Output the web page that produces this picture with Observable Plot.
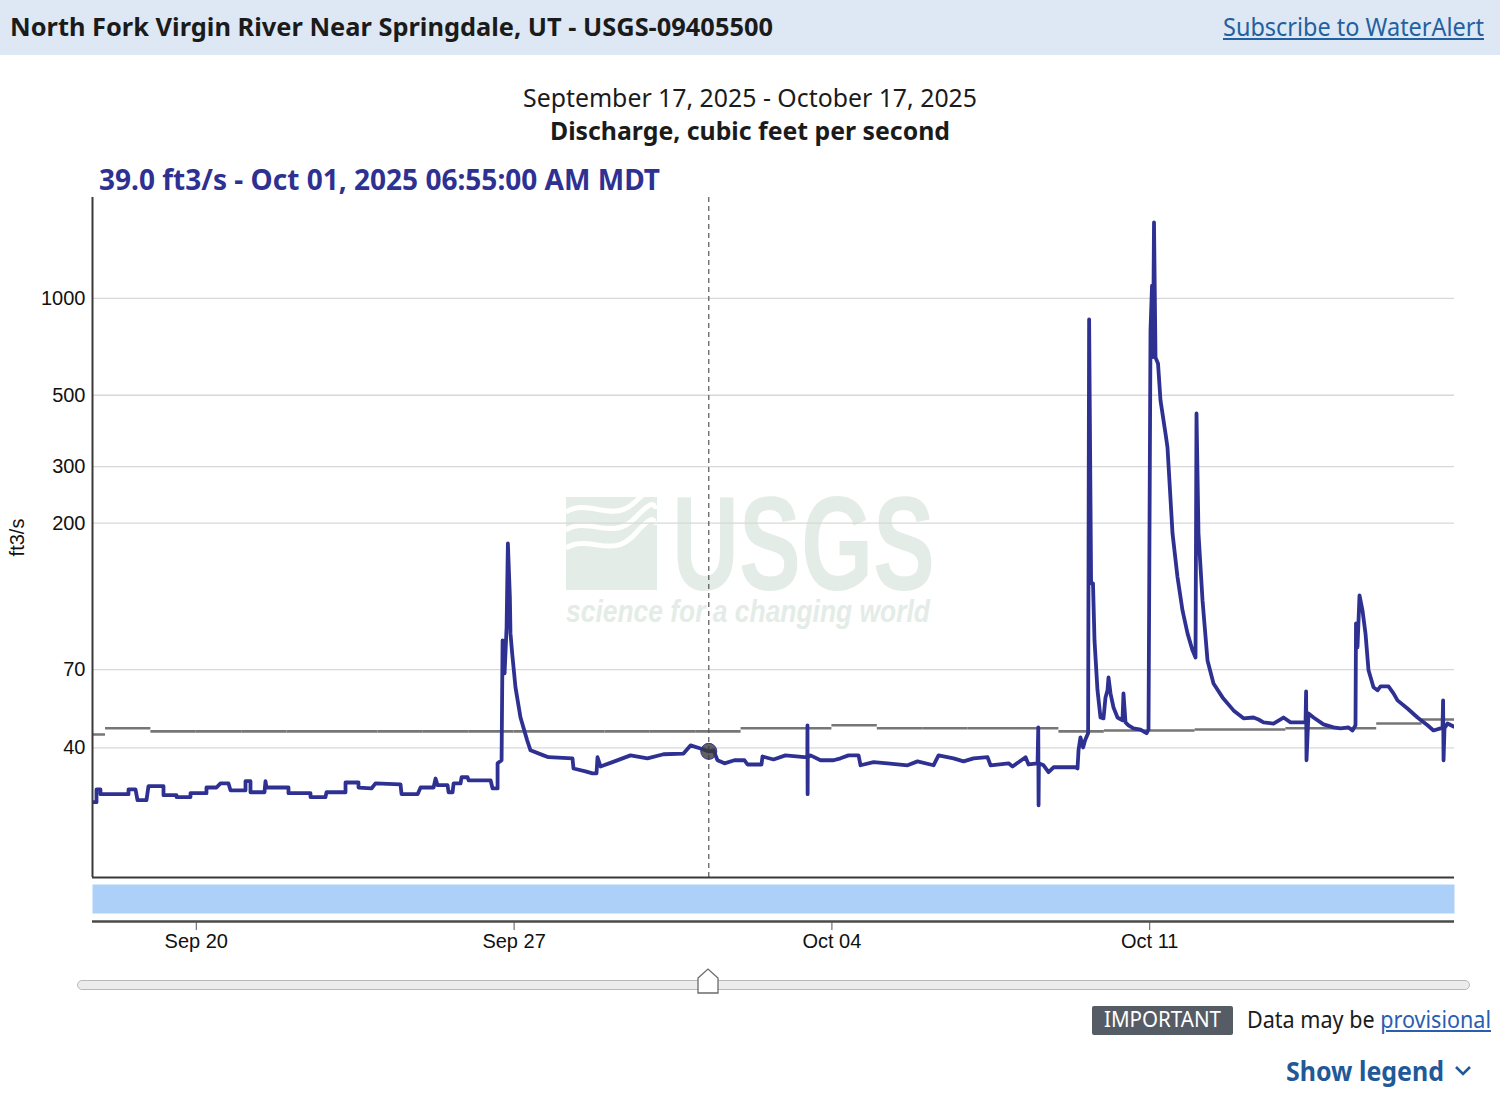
<!DOCTYPE html>
<html>
<head>
<meta charset="utf-8">
<script src="https://cdn.jsdelivr.net/npm/d3@7"></script>
<script src="https://cdn.jsdelivr.net/npm/@observablehq/plot@0.6"></script>
<style>
  html, body { margin: 0; padding: 0; background: #fff; }
  #page { position: relative; width: 1500px; height: 1111px; overflow: hidden; font-family: "Noto Sans", sans-serif; }
  .t { position: absolute; white-space: nowrap; line-height: 1; transform-origin: 0 50%; }
  #header { position: absolute; left: 0; top: 0; width: 1500px; height: 55px; background: #dde8f4; }
  #chartA { position: absolute; left: 0; top: 190px; }
  #chartB { position: absolute; left: 0; top: 880px; }
  #track { position: absolute; left: 77px; top: 980px; width: 1391px; height: 8px; border: 1px solid #b9b9b9; border-radius: 6px; background: #ececec; }
  #handle { position: absolute; top: 968px; }
  #badge { position: absolute; left: 1092px; top: 1006px; width: 141px; height: 29px; background: #565c65; border-radius: 2px; }
</style>
</head>
<body>
<div id="page">
  <div id="header"></div>
  <div class="t" id="hdrTitle" style="left:10px;top:14px;font-size:25px;font-weight:700;color:#1b1b1b;">North Fork Virgin River Near Springdale, UT - USGS-09405500</div>
  <div class="t" id="hdrLink" style="left:1223px;top:14px;font-size:25px;color:#23609f;text-decoration:underline;">Subscribe to WaterAlert</div>
  <div class="t" id="sub1" style="left:523px;top:85px;font-size:25.8px;color:#1b1b1b;">September 17, 2025 - October 17, 2025</div>
  <div class="t" id="sub2" style="left:550px;top:118px;font-size:25.8px;font-weight:700;color:#1b1b1b;">Discharge, cubic feet per second</div>
  <div class="t" id="readout" style="left:99px;top:165px;font-size:28px;font-weight:700;color:#2e3192;"></div>
  <div id="chartA"></div>
  <div id="chartB"></div>
  <div id="track"></div>
  <svg id="handle" width="24" height="28"><polygon points="2,10 12,1 22,10 22,25 2,25" fill="#fff" stroke="#6b6b6b" stroke-width="1.3"/></svg>
  <div id="badge"></div>
  <div class="t" id="imp" style="left:1104px;top:1009px;font-size:21px;color:#fff;">IMPORTANT</div>
  <div class="t" id="prov" style="left:1247px;top:1008px;font-size:23px;color:#1b1b1b;">Data may be <span style="color:#2a5db0;text-decoration:underline;">provisional</span></div>
  <div class="t" id="legend" style="left:1286px;top:1058px;font-size:26px;font-weight:700;color:#1f5998;">Show legend</div>
  <svg style="position:absolute;left:1454px;top:1064px;" width="20" height="14"><polyline points="2,3 9,10 16,3" fill="none" stroke="#1f5998" stroke-width="2.6"/></svg>
</div>
<script>
// ---------------- data ----------------
const flowTimes = [
"09-17 17:08","09-17 19:15","09-17 19:15","09-17 21:20","09-17 21:20","09-18 12:10","09-18 12:10","09-18 15:52","09-18 16:55","09-18 21:40",
"09-18 22:44","09-19 06:40","09-19 06:40","09-19 13:32","09-19 13:32","09-19 20:56","09-19 20:56","09-20 05:23","09-20 05:23","09-20 10:41",
"09-20 12:47","09-20 17:01","09-20 18:05","09-21 02:01","09-21 02:01","09-21 04:39","09-21 04:39","09-21 12:03","09-21 12:35","09-21 13:06",
"09-22 00:44","09-22 00:44","09-22 12:22","09-22 12:22","09-22 20:18","09-22 20:50","09-23 06:53","09-23 06:53","09-23 13:45","09-23 13:45",
"09-23 20:37","09-23 22:44","09-24 11:57","09-24 12:30","09-24 20:59","09-24 22:34","09-25 05:26","09-25 06:29","09-25 07:32","09-25 12:50",
"09-25 13:22","09-25 15:29","09-25 16:01","09-25 19:42","09-25 20:14","09-25 23:25","09-25 23:57","09-26 11:34","09-26 12:37","09-26 15:16",
"09-26 15:16","09-26 17:23","09-26 17:55","09-26 18:58","09-26 20:02","09-26 20:43","09-26 21:46","09-26 22:05","09-26 22:59","09-27 00:44",
"09-27 03:23","09-27 06:55","09-27 08:40","09-27 15:32","09-27 18:11","09-28 06:52","09-28 07:24","09-28 13:44","09-28 17:26","09-28 19:34",
"09-28 20:06","09-28 21:40","09-29 04:01","09-29 13:32","09-29 22:31","09-30 06:58","09-30 17:33","09-30 21:15","10-01 02:32","10-01 06:55",
"10-01 09:24","10-01 11:31","10-01 15:13","10-01 20:30","10-02 01:47","10-02 03:23","10-02 10:47","10-02 11:19","10-02 17:07","10-02 23:28",
"10-03 09:30","10-03 11:00","10-03 11:05","10-03 11:10","10-03 11:15","10-03 12:42","10-03 18:00","10-04 00:52","10-04 04:34","10-04 08:47",
"10-04 14:05","10-04 15:08","10-04 22:01","10-05 05:25","10-05 15:59","10-05 21:16","10-06 05:44","10-06 08:22","10-06 16:18","10-06 21:35",
"10-07 02:52","10-07 10:16","10-07 11:52","10-07 21:23","10-07 23:29","10-08 06:22","10-08 07:57","10-08 12:43","10-08 13:05","10-08 13:15",
"10-08 13:25","10-08 15:53","10-08 18:31","10-08 21:10","10-09 08:48","10-09 09:50","10-09 10:22","10-09 11:24","10-09 12:47","10-09 13:50",
"10-09 15:26","10-09 15:58","10-09 17:01","10-09 18:01","10-09 18:49","10-09 20:24","10-09 21:59","10-09 23:34","10-10 00:38","10-10 01:41",
"10-10 02:13","10-10 03:16","10-10 04:52","10-10 06:58","10-10 09:37","10-10 10:08","10-10 11:12","10-10 12:47","10-10 15:26","10-10 19:08",
"10-10 22:18","10-10 23:22","10-11 00:25","10-11 01:13","10-11 01:45","10-11 02:16","10-11 03:04","10-11 04:23","10-11 05:42","10-11 08:21",
"10-11 09:24","10-11 12:03","10-11 14:41","10-11 17:20","10-11 19:59","10-11 22:37","10-12 00:13","10-12 00:44","10-12 01:47","10-12 03:55",
"10-12 06:33","10-12 09:43","10-12 14:29","10-12 20:18","10-13 01:35","10-13 06:52","10-13 09:31","10-13 12:09","10-13 17:26","10-13 22:43",
"10-14 02:26","10-14 10:22","10-14 10:40","10-14 10:53","10-14 11:56","10-14 14:35","10-14 19:52","10-15 01:10","10-15 04:52","10-15 09:05",
"10-15 11:12","10-15 12:47","10-15 13:03","10-15 13:50","10-15 14:54","10-15 16:29","10-15 18:04","10-15 19:40","10-15 22:18","10-16 00:25",
"10-16 02:00","10-16 06:14","10-16 08:52","10-16 10:59","10-16 16:16","10-16 21:34","10-17 02:51","10-17 06:01","10-17 09:43","10-17 10:47",
"10-17 11:05","10-17 11:20","10-17 11:50","10-17 13:26","10-17 16:36"
];
const flowValues = [
27.1,27.1,29.7,29.7,28.7,28.7,29.7,29.7,27.5,27.5,
30.4,30.4,28.5,28.5,28.1,28.1,28.9,28.9,30.1,30.1,
31.0,31.0,29.5,29.5,31.5,31.5,29.1,29.1,31.5,30.1,
30.1,28.9,28.9,28.1,28.1,29.1,29.1,31.2,31.2,30.1,
29.9,31.0,30.8,28.7,28.7,30.1,30.1,32.1,30.6,30.6,
29.1,29.1,31.0,31.0,32.4,32.4,31.7,31.7,29.9,29.9,
35.8,36.6,86.3,68.2,94.8,172.9,117.5,90.8,78.7,61.7,
49.7,42.2,39.3,37.9,37.4,37.1,34.5,33.8,33.3,33.3,
37.4,35.0,36.1,37.9,37.1,38.2,38.4,40.7,39.8,39.0,
39.3,36.6,35.8,36.6,36.6,35.5,35.5,37.6,36.8,37.9,
37.4,37.4,47.0,28.7,37.4,37.9,36.6,36.6,37.1,37.9,
37.9,35.3,36.1,35.8,35.3,36.3,35.3,37.9,37.1,36.3,
37.1,37.4,35.3,35.8,35.0,37.4,35.5,35.8,46.3,26.5,
35.8,35.3,33.6,34.8,34.8,34.5,39.3,43.1,40.1,42.2,
44.4,860,130,130,86.3,60.4,49.7,49.4,57.4,60.4,
66.2,59.1,53.4,49.7,48.7,59.1,48.0,47.0,46.0,45.6,
44.4,45.6,795,1097,657,1723,655,628,482,380,
344,186,136,107,90.8,80.4,76.4,439,186,115,
74.8,63.4,57.4,52.3,49.4,49.7,49.0,48.0,47.6,49.7,
48.0,48.0,59.9,36.6,51.2,49.7,47.3,46.3,46.0,46.3,
45.3,47.0,97.5,82.1,119.2,107,90.8,69.7,61.7,60.4,
62.1,62.1,59.1,56.2,53.0,49.7,47.0,45.3,46.0,46.0,
56.2,36.6,46.0,47.6,46.6
];
// daily median statistic (grey steps)
const medianDays = ["09-17","09-18","09-19","09-20","09-21","09-22","09-23","09-24","09-25","09-26","09-27","09-28","09-29","09-30","10-01",
                    "10-02","10-03","10-04","10-05","10-06","10-07","10-08","10-09","10-10","10-11","10-12","10-13","10-14","10-15","10-16","10-17"];
const medianValues = [44,46,45,45,45,45,45,45,45,45,45,45,45,45,45,
                      46,46,47,46,46,46,46,45,45.3,45.3,45.6,45.6,46,46,47.6,49];
const yTicks = [40, 70, 200, 300, 500, 1000];
const xTickDays = ["09-20 00:00","09-27 00:00","10-04 00:00","10-11 00:00"];
const periodStart = "09-17 17:08", periodEnd = "10-17 17:07";
const selectedTime = "10-01 06:55", selectedValue = 39.0;
const yMin = 15.8, yMax = 2061;

// ---------------- build ----------------
const parseT = d3.utcParse("%Y-%m-%d %H:%M");
const T = s => parseT("2025-" + s);
const flow = flowTimes.map((t, i) => ({t: T(t), v: flowValues[i]}));
const median = medianDays.map((d, i) => ({day: T(d + " 00:00"), v: medianValues[i]}));
const xDomain = [T(periodStart), T(periodEnd)];
const sel = {t: T(selectedTime), v: selectedValue};

document.getElementById("readout").textContent =
  `${selectedValue.toFixed(1)} ft3/s - ${d3.utcFormat("%b %d, %Y %I:%M:%S %p")(sel.t)} MDT`;

const axisFont = "'Liberation Sans', Arial, Helvetica, sans-serif";

const chartA = Plot.plot({
  width: 1500, height: 690,
  marginLeft: 92, marginRight: 46, marginTop: 7, marginBottom: 3,
  style: {fontFamily: axisFont, fontSize: "20px", color: "#111", background: "transparent", overflow: "visible"},
  x: {type: "utc", domain: xDomain, axis: null},
  y: {type: "log", domain: [yMin, yMax]},
  marks: [
    Plot.gridY(yTicks, {stroke: "#d8d8d8", strokeOpacity: 1, strokeWidth: 1.3}),
    Plot.axisY(yTicks, {tickSize: 0, tickPadding: 7, tickFormat: d => String(d), label: "ft3/s", labelAnchor: "center", labelOffset: 83, labelArrow: "none"}),
    Plot.ruleY(median, {x1: "day", x2: d => d3.utcDay.offset(d.day, 1), y: "v", stroke: "#767676", strokeWidth: 2.6, clip: true}),
    Plot.line(flow, {x: "t", y: "v", stroke: "#2e3192", strokeWidth: 3.8, clip: true}),
    Plot.ruleX([sel.t], {stroke: "#555", strokeWidth: 1.2, strokeDasharray: "5,4"}),
    Plot.dot([sel], {x: "t", y: "v", r: 8, fill: "#3a3a3a", fillOpacity: 0.8, stroke: "#2e3192", strokeWidth: 1}),
    Plot.ruleX([xDomain[0]], {stroke: "#3a3a3a", strokeWidth: 2}),
    Plot.ruleY([yMin], {stroke: "#3a3a3a", strokeWidth: 2})
  ]
});
document.getElementById("chartA").appendChild(chartA);

// faint USGS watermark (decoration)
{
  const first = chartA.querySelector("g");
  const g = d3.create("svg:g").attr("fill", "#e4ece7").attr("text-anchor", "start");
  const icon = g.append("g");
  icon.append("rect").attr("x", 566).attr("y", 307).attr("width", 91).attr("height", 93);
  [[322, 312], [340, 328], [358, 344]].forEach(([a, b]) => {
    icon.append("path")
      .attr("d", `M566,${a} C590,${a - 14} 612,${a + 12} 635,${b} S652,${b - 8} 657,${b - 12}`)
      .attr("fill", "none").attr("stroke", "#fff").attr("stroke-width", 5);
  });
  g.append("text").attr("x", 672).attr("y", 400).attr("font-family", axisFont)
    .attr("font-weight", 700).attr("font-size", 134).attr("textLength", 263)
    .attr("lengthAdjust", "spacingAndGlyphs").text("USGS");
  g.append("text").attr("x", 566).attr("y", 432).attr("font-family", axisFont)
    .attr("font-style", "italic").attr("font-weight", 700).attr("font-size", 31)
    .attr("textLength", 364).attr("lengthAdjust", "spacingAndGlyphs").text("science for a changing world");
  chartA.insertBefore(g.node(), first);
}

const chartB = Plot.plot({
  width: 1500, height: 81,
  marginLeft: 92, marginRight: 46, marginTop: 4, marginBottom: 40,
  style: {fontFamily: axisFont, fontSize: "20px", color: "#111", background: "transparent", overflow: "visible"},
  x: {type: "utc", domain: xDomain},
  y: {domain: [0, 1], axis: null},
  marks: [
    Plot.frame({fill: "#add0f8", stroke: "none", insetBottom: 8}),
    Plot.ruleY([0], {stroke: "#4a4a4a", strokeWidth: 2.5}),
    Plot.axisX(xTickDays.map(T), {tickSize: 9, tickPadding: 3, tickFormat: d3.utcFormat("%b %d"), label: null, stroke: "#555"})
  ]
});
document.getElementById("chartB").appendChild(chartB);

// slider handle follows the selected time
document.getElementById("handle").style.left = (chartA.scale("x").apply(sel.t) - 12) + "px";

// fit text widths to the reference layout
function fit(id, w) {
  const el = document.getElementById(id);
  const r = el.getBoundingClientRect().width;
  el.style.transform = `scaleX(${w / r})`;
}
fit("hdrTitle", 763); fit("hdrLink", 261); fit("sub1", 454); fit("sub2", 400);
fit("readout", 561); fit("imp", 117); fit("prov", 244); fit("legend", 158);
</script>
</body>
</html>
